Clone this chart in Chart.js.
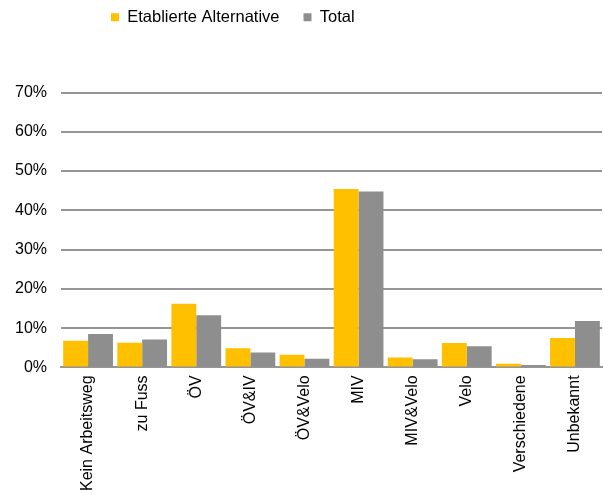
<!DOCTYPE html>
<html>
<head>
<meta charset="utf-8">
<script src="https://cdn.jsdelivr.net/npm/chart.js@4/dist/chart.umd.min.js"></script>
<style>
    html, body { margin: 0; padding: 0; background: #fff; }
</style>
</head>
<body>
<canvas id="modeChart" width="603" height="495"></canvas>
<script>
var categories = ['Kein Arbeitsweg', 'zu Fuss', 'ÖV', 'ÖV&IV', 'ÖV&Velo', 'MIV', 'MIV&Velo', 'Velo', 'Verschiedene', 'Unbekannt'];
var etablierte = [6.8, 6.3, 16.2, 4.9, 3.2, 45.4, 2.5, 6.2, 0.9, 7.5];
var total = [8.5, 7.1, 13.3, 3.8, 2.2, 44.8, 2.1, 5.4, 0.6, 11.8];
var yTicks = [0, 10, 20, 30, 40, 50, 60, 70];

var fontFamily = '"Liberation Sans", Arial, sans-serif';

// Legend sits left of centre in the original, shift it there
var legendShift = {
    id: 'legendShift',
    afterLayout: function (chart) {
        chart.legend.left = 87;
        chart.legend.right = 603;
        chart.legend.top = -15;
    }
};

var ctx = document.getElementById('modeChart').getContext('2d');
new Chart(ctx, {
    type: 'bar',
    data: {
        labels: categories,
        datasets: [{
            label: 'Etablierte Alternative',
            data: etablierte,
            backgroundColor: '#FFC000',
            borderWidth: 0,
            categoryPercentage: 0.92,
            barPercentage: 1.0
        }, {
            label: 'Total',
            data: total,
            backgroundColor: '#8E8E8E',
            borderWidth: 0,
            categoryPercentage: 0.92,
            barPercentage: 1.0
        }]
    },
    options: {
        responsive: false,
        animation: false,
        layout: {
            padding: { left: 1, right: 1, top: 42, bottom: -4 }
        },
        plugins: {
            legend: {
                position: 'top',
                align: 'start',
                labels: {
                    boxWidth: 8,
                    boxHeight: 8,
                    padding: 24,
                    color: '#000',
                    font: { family: fontFamily, size: 16.5 }
                }
            },
            tooltip: { enabled: false }
        },
        scales: {
            x: {
                grid: { display: false, drawTicks: false },
                border: { display: true, color: '#959595', width: 2 },
                ticks: {
                    color: '#000',
                    font: { family: fontFamily, size: 16 },
                    minRotation: 90,
                    maxRotation: 90,
                    autoSkip: false,
                    padding: 8
                }
            },
            y: {
                min: 0,
                max: 70,
                afterBuildTicks: function (scale) {
                    scale.ticks = yTicks.map(function (v) { return { value: v }; });
                },
                grid: { color: '#959595', lineWidth: 2, drawTicks: false },
                border: { display: false },
                ticks: {
                    color: '#000',
                    font: { family: fontFamily, size: 16 },
                    padding: 14,
                    callback: function (v) { return v + '%'; }
                }
            }
        }
    },
    plugins: [legendShift]
});
</script>
</body>
</html>
